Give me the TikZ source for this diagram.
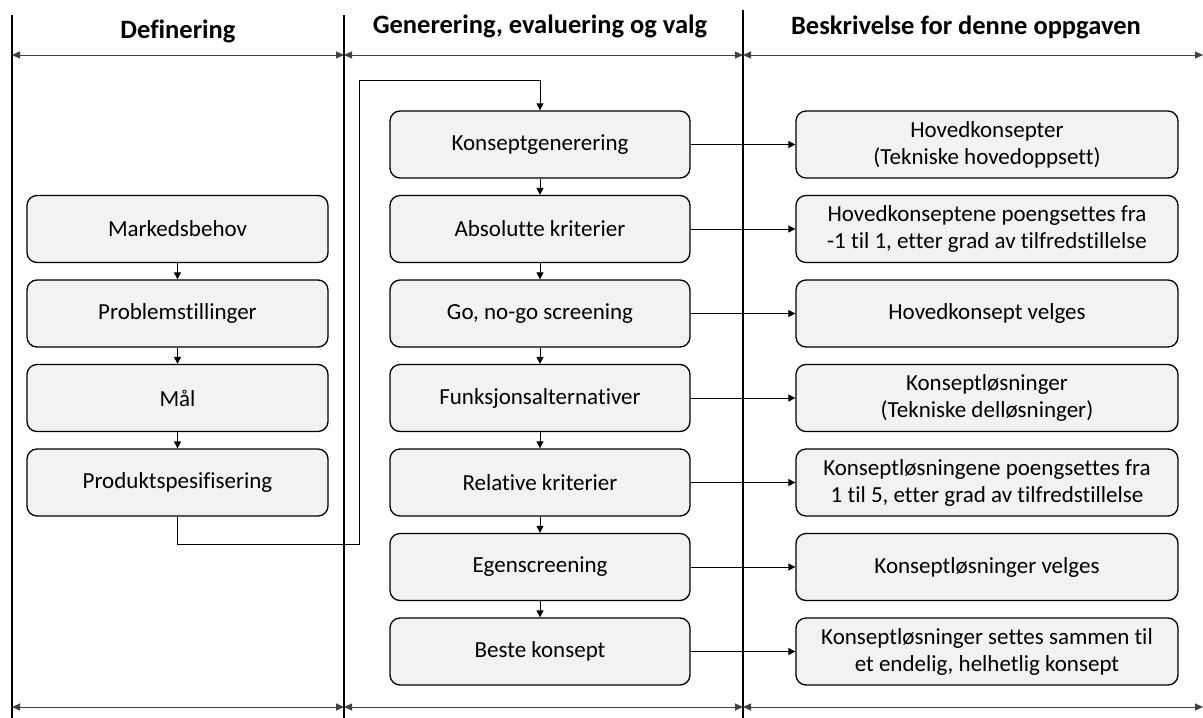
\documentclass[tikz,border=0pt]{standalone}
\usepackage{fontspec}
\setmainfont[Ligatures=NoCommon]{Carlito}
\usetikzlibrary{arrows.meta}
\definecolor{boxfill}{HTML}{F2F2F2}
\begin{document}
\begin{tikzpicture}[x=1pt,y=-1pt,
  stage/.style={draw=black,line width=1.3pt,fill=boxfill,rounded corners=10pt,
    minimum height=67pt,align=center,font=\fontsize{23}{27}\selectfont,inner sep=0pt},
  leftbox/.style={stage,minimum width=301pt},
  midbox/.style={stage,minimum width=300pt},
  rightbox/.style={stage,minimum width=382pt},
  flow/.style={line width=1pt,-{Triangle[length=7pt,width=7pt]}},
  span/.style={line width=0.9pt,draw=black!75,{Triangle[length=8pt,width=7pt]}-{Triangle[length=8pt,width=7pt]}},
  divider/.style={line width=1.3pt},
  header/.style={font=\fontsize{26.5}{30}\selectfont\bfseries,inner sep=0pt}]
\useasboundingbox (0,0) rectangle (1203,718);

% column dividers
\coordinate (d1t) at (12,15);   \coordinate (d1b) at (12,718);
\coordinate (d2t) at (344,15);  \coordinate (d2b) at (344,718);
\coordinate (d3t) at (743,10);  \coordinate (d3b) at (743,718);
\draw[divider] (d1t) -- (d1b);
\draw[divider] (d2t) -- (d2b);
\draw[divider] (d3t) -- (d3b);

% column headers
\node[header] (h1) at (178,31) {Definering};
\node[header] (h2) at (540,26) {Generering, evaluering og valg};
\node[header] (h3) at (966,27) {Beskrivelse for denne oppgaven};

% span arrows, top and bottom
\coordinate (t1) at (12,55);  \coordinate (t2) at (344,55);
\coordinate (t3) at (743,55); \coordinate (t4) at (1203,55);
\coordinate (b1) at (12,707); \coordinate (b2) at (344,707);
\coordinate (b3) at (743,707); \coordinate (b4) at (1203,707);
\draw[span] (t1) -- (t2);
\draw[span] (t2) -- (t3);
\draw[span] (t3) -- (t4);
\draw[span] (b1) -- (b2);
\draw[span] (b2) -- (b3);
\draw[span] (b3) -- (b4);

% definition column
\node[leftbox] (l1) at (177.5,229)   {Markedsbehov};
\node[leftbox] (l2) at (177.5,313.5) {Problemstillinger};
\node[leftbox] (l3) at (177.5,398)   {Mål};
\node[leftbox] (l4) at (177.5,482.5) {Produktspesifisering};

% generation / evaluation column
\node[midbox] (m1) at (540,144.5) {Konseptgenerering};
\node[midbox] (m2) at (540,229)   {Absolutte kriterier};
\node[midbox] (m3) at (540,313.5) {Go, no-go screening};
\node[midbox] (m4) at (540,398)   {Funksjonsalternativer};
\node[midbox] (m5) at (540,482.5) {Relative kriterier};
\node[midbox] (m6) at (540,567)   {Egenscreening};
\node[midbox] (m7) at (540,651.5) {Beste konsept};

% description column
\node[rightbox] (r1) at (987,144.5) {Hovedkonsepter\\(Tekniske hovedoppsett)};
\node[rightbox] (r2) at (987,229)   {Hovedkonseptene poengsettes fra\\-1 til 1, etter grad av tilfredstillelse};
\node[rightbox] (r3) at (987,313.5) {Hovedkonsept velges};
\node[rightbox] (r4) at (987,398)   {Konseptløsninger\\(Tekniske delløsninger)};
\node[rightbox] (r5) at (987,482.5) {Konseptløsningene poengsettes fra\\1 til 5, etter grad av tilfredstillelse};
\node[rightbox] (r6) at (987,567)   {Konseptløsninger velges};
\node[rightbox] (r7) at (987,651.5) {Konseptløsninger settes sammen til\\et endelig, helhetlig konsept};

% vertical flow inside columns
\draw[flow] (l1) -- (l2);
\draw[flow] (l2) -- (l3);
\draw[flow] (l3) -- (l4);
\draw[flow] (m1) -- (m2);
\draw[flow] (m2) -- (m3);
\draw[flow] (m3) -- (m4);
\draw[flow] (m4) -- (m5);
\draw[flow] (m5) -- (m6);
\draw[flow] (m6) -- (m7);

% link from specification into concept generation
\draw[flow] (l4.south) -- ++(0,28) -| (359,80) -| (m1.north);

% horizontal links to descriptions
\foreach \i in {1,...,7} {\draw[flow] (m\i.east) -- (r\i.west);}
\end{tikzpicture}
\end{document}
